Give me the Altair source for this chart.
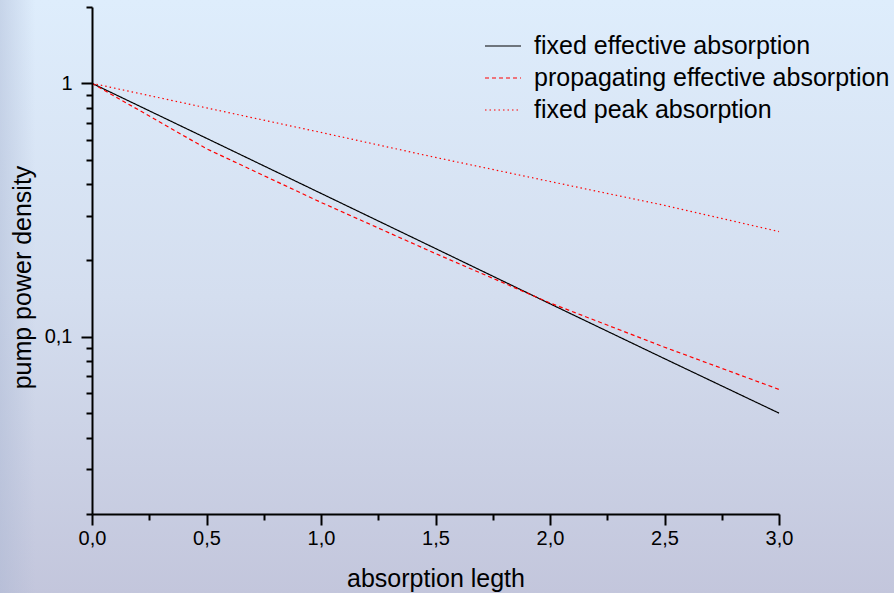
import altair as alt
import pandas as pd

FONT = "Liberation Sans"

# values
x_vals = [0.0, 0.5, 1.0, 1.5, 2.0, 2.5, 3.0]
fixed_effective = [1.0, 0.607, 0.368, 0.223, 0.135, 0.082, 0.050]
propagating_effective = [1.0, 0.552, 0.339, 0.213, 0.136, 0.091, 0.062]
fixed_peak = [1.0, 0.80, 0.64, 0.51, 0.41, 0.33, 0.26]

series_names = ["fixed effective absorption",
                "propagating effective absorption",
                "fixed peak absorption"]
series_colors = ["#000000", "#ff0000", "#ff0000"]
series_dashes = [[1, 0], [4, 3], [1.5, 3]]

x_ticks = [0.0, 0.25, 0.5, 0.75, 1.0, 1.25, 1.5, 1.75, 2.0, 2.25, 2.5, 2.75, 3.0]
y_ticks = [0.02, 0.03, 0.04, 0.05, 0.06, 0.07, 0.08, 0.09,
           0.1, 0.2, 0.3, 0.4, 0.5, 0.6, 0.7, 0.8, 0.9, 1, 2]

rows = []
for name, vals in zip(series_names, [fixed_effective, propagating_effective, fixed_peak]):
    for xv, yv in zip(x_vals, vals):
        rows.append({"x": xv, "value": yv, "series": name})
df = pd.DataFrame(rows)

legend = alt.Legend(
    title=None, orient="none", legendX=392, legendY=20,
    symbolType="stroke", symbolSize=1296, symbolStrokeWidth=1.2,
    labelFont=FONT, labelFontSize=25, labelColor="black",
    labelOffset=12, rowPadding=0, padding=0, labelLimit=0,
)

bg = alt.Chart(pd.DataFrame({"k": [0]})).mark_rect(
    fill=alt.LinearGradient(
        gradient="linear",
        stops=[alt.GradientStop(color="#deedfc", offset=0),
               alt.GradientStop(color="#d4deef", offset=0.5),
               alt.GradientStop(color="#c3c6dc", offset=1)],
        x1=0, x2=0, y1=0, y2=1,
    )
).encode(x=alt.value(-92), x2=alt.value(802), y=alt.value(-7), y2=alt.value(586))

band = alt.Chart(pd.DataFrame({"k": [0]})).mark_rect(
    fill=alt.LinearGradient(
        gradient="linear",
        stops=[alt.GradientStop(color="rgba(170,182,210,0.45)", offset=0),
               alt.GradientStop(color="rgba(170,182,210,0)", offset=1)],
        x1=0, x2=1, y1=0, y2=0,
    )
).encode(x=alt.value(-92), x2=alt.value(-57), y=alt.value(-7), y2=alt.value(586))

lines = alt.Chart(df).mark_line(strokeWidth=1.2).encode(
    x=alt.X("x:Q",
            scale=alt.Scale(domain=[0, 3], nice=False, zero=False),
            axis=alt.Axis(
                title="absorption legth", values=x_ticks,
                labelExpr="datum.value*2 == round(datum.value*2) ? replace(format(datum.value, '.1f'), '.', ',') : ''",
                tickSize={"condition": {"test": "datum.value*2 == round(datum.value*2)", "value": 11}, "value": 6},
                labelPadding=3, labelFlush=False, labelOverlap=False,
                titleY=64, titleBaseline="middle", zindex=2,
            )),
    y=alt.Y("value:Q",
            scale=alt.Scale(type="log", domain=[0.02, 2], nice=False),
            axis=alt.Axis(
                title="pump power density", values=y_ticks,
                labelExpr="datum.value == 1 ? '1' : (datum.value == 0.1 ? '0,1' : '')",
                tickSize={"condition": {"test": "datum.value == 1 || datum.value == 0.1", "value": 11}, "value": 6},
                labelPadding=9, labelOverlap=False,
                titleX=-70, titleY=270, titleAngle=270,
                titleAlign="center", titleBaseline="middle", zindex=2,
            )),
    color=alt.Color("series:N", scale=alt.Scale(domain=series_names, range=series_colors), legend=legend),
    strokeDash=alt.StrokeDash("series:N", scale=alt.Scale(domain=series_names, range=series_dashes), legend=legend),
)

chart = alt.layer(bg, band, lines).properties(
    width=687, height=507,
    padding={"left": 92, "top": 7, "right": 115, "bottom": 79},
    autosize=alt.AutoSizeParams(type="none"),
    background="#d6e0f2",
).configure_view(stroke=None).configure_axis(
    grid=False, domainColor="black", domainWidth=2, tickColor="black", tickWidth=2,
    labelFont=FONT, labelFontSize=20, labelColor="black",
    titleFont=FONT, titleFontSize=25, titleFontWeight="normal", titleColor="black",
)

chart.save("out.html", embed_options={"renderer": "svg", "actions": False})
